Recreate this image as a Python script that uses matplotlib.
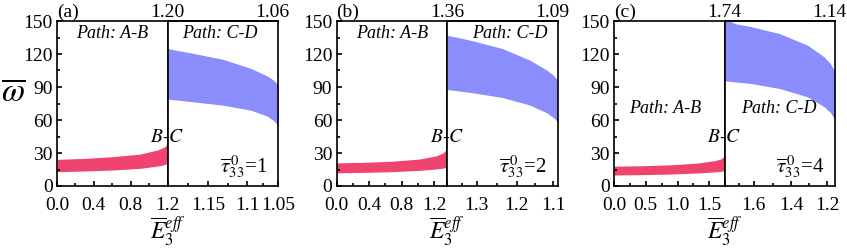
import matplotlib
matplotlib.use("Agg")
import matplotlib.pyplot as plt
from matplotlib.ticker import MultipleLocator, FixedLocator

plt.rcParams['font.family'] = ['Liberation Serif', 'DejaVu Serif']
plt.rcParams['mathtext.fontset'] = 'stix'

PINK = '#EF4470'
BLUE = '#8A8DFB'

# ---------------- data ----------------
panel_tags = ['(a)', '(b)', '(c)']
tau_vals = ['1', '2', '4']
E_c = [1.20, 1.36, 1.74]          # E at point B/C (divider)
E_end_top = ['1.06', '1.09', '1.14']
E_c_top = ['1.20', '1.36', '1.74']

# Path A-B (pink band): x in E units
ab_x_a = [0, 0.29, 0.60, 0.90, 1.09, 1.16, 1.20]
ab_lo_a = [13, 13.6, 14.5, 16.0, 18.1, 19.2, 20.6]
ab_hi_a = [24.2, 25.1, 26.6, 29.0, 32.7, 35.1, 38.1]

ab_x_b = [0, 0.33, 0.68, 1.02, 1.23, 1.31, 1.36]
ab_lo_b = [12, 12.4, 13.0, 14.2, 15.5, 16.3, 17.0]
ab_hi_b = [21, 21.5, 22.5, 24.5, 27.5, 30.0, 34.0]

ab_x_c = [0, 0.42, 0.87, 1.31, 1.58, 1.68, 1.74]
ab_lo_c = [10, 10.3, 10.8, 11.8, 12.8, 13.3, 14.0]
ab_hi_c = [18, 18.4, 19.2, 20.8, 23.0, 24.5, 27.0]

# Path C-D (blue band): x = position along path (0 at C, 1 at D)
cd_t = [0, 0.1, 0.236, 0.5, 0.752, 0.903, 0.96, 1.0]
cd_lo_a = [79, 78, 76.5, 73.5, 69, 63.5, 59.5, 55.3]
cd_hi_a = [125, 123, 120.5, 115.2, 107, 100, 96.2, 91.8]
cd_lo_b = [87.7, 86.5, 84.7, 80.5, 73.5, 66.5, 62.5, 58.4]
cd_hi_b = [137, 135, 131.9, 125, 114.3, 105.3, 101, 96.3]
cd_lo_c = [95.6, 94.6, 93.2, 88.6, 81, 72, 66.5, 60]
cd_hi_c = [152, 147.5, 145, 138.5, 128, 117.3, 111, 103.7]

# Bottom tick labels along path C-D (E values at path positions)
cd_tick_pos_a = [0, 0.367, 0.72, 1.0]
cd_tick_lab_a = ['', '1.15', '1.1', '1.05']
cd_tick_pos_b = [0, 0.27, 0.63, 0.96]
cd_tick_lab_b = ['', '1.3', '1.2', '1.1']
cd_tick_pos_c = [0, 0.264, 0.605, 0.928]
cd_tick_lab_c = ['', '1.6', '1.4', '1.2']

ab_major = [0.4, 0.4, 0.5]
ab_minor = [0.2, 0.2, 0.25]

panels = [
    (ab_x_a, ab_lo_a, ab_hi_a, cd_lo_a, cd_hi_a, cd_tick_pos_a, cd_tick_lab_a),
    (ab_x_b, ab_lo_b, ab_hi_b, cd_lo_b, cd_hi_b, cd_tick_pos_b, cd_tick_lab_b),
    (ab_x_c, ab_lo_c, ab_hi_c, cd_lo_c, cd_hi_c, cd_tick_pos_c, cd_tick_lab_c),
]

# text layout (axes fractions)
ab_text_pos = [(0.5, 0.925), (0.5, 0.925), (0.46, 0.47)]
cd_text_pos = [(0.475, 0.925), (0.57, 0.925), (0.49, 0.47)]

# ---------------- figure ----------------
W, H = 847, 249
fig = plt.figure(figsize=(W / 100, H / 100), dpi=100)

lefts = [57, 336.5, 614]
divs = [167.5, 447, 724.5]
rights = [278, 557.5, 835]
top_px, bot_px = 21, 186

TFS = 14
lw = 1.2

for i in range(3):
    abx, ablo, abhi, cdlo, cdhi, tpos, tlab = panels[i]
    b = 1 - bot_px / H
    h = (bot_px - top_px) / H
    axL = fig.add_axes([lefts[i] / W, b, (divs[i] - lefts[i]) / W, h])
    axR = fig.add_axes([divs[i] / W, b, (rights[i] - divs[i]) / W, h])

    axL.fill_between(abx, ablo, abhi, color=PINK, lw=0)
    axR.fill_between(cd_t, cdlo, cdhi, color=BLUE, lw=0)

    for ax in (axL, axR):
        ax.set_ylim(0, 150)
        for s in ax.spines.values():
            s.set_linewidth(lw)
        ax.tick_params(direction='in', labelsize=TFS, width=lw, length=3.5,
                       top=False, right=False)
        ax.tick_params(axis='x', pad=8)
        ax.tick_params(axis='y', pad=3)
        ax.tick_params(which='minor', direction='in', width=lw, length=2)

    axL.set_xlim(0, E_c[i])
    axL.xaxis.set_major_locator(MultipleLocator(ab_major[i]))
    axL.xaxis.set_minor_locator(MultipleLocator(ab_minor[i]))
    axL.yaxis.set_major_locator(MultipleLocator(30))
    axL.yaxis.set_minor_locator(MultipleLocator(15))
    axL.xaxis.set_major_formatter(matplotlib.ticker.FormatStrFormatter('%.1f'))

    axR.set_xlim(0, 1)
    axR.set_xticks(tpos)
    axR.set_xticklabels(tlab)
    mids = [(tpos[k] + tpos[k + 1]) / 2 for k in range(len(tpos) - 1)]
    axR.xaxis.set_minor_locator(FixedLocator(mids))
    axR.set_yticks([])
    axR.yaxis.set_minor_locator(FixedLocator([]))

    # top labels: values of E at C and D
    sec = axR.secondary_xaxis('top')
    sec.set_xticks([0, 0.95])
    sec.set_xticklabels([E_c_top[i], E_end_top[i]])
    sec.tick_params(length=0, labelsize=TFS, pad=0)
    sec.spines['top'].set_linewidth(lw)

    axL.text(0.0, 1.0, panel_tags[i], transform=axL.transAxes,
             fontsize=TFS, ha='left', va='bottom')

    axL.text(*ab_text_pos[i], 'Path: A-B', transform=axL.transAxes,
             fontsize=13, style='italic', ha='center', va='center')
    axR.text(*cd_text_pos[i], 'Path: C-D', transform=axR.transAxes,
             fontsize=13, style='italic', ha='center', va='center')
    fig.text(divs[i] / W, 1 - 137 / H, r'$B$-$C$',
             fontsize=14, ha='center', va='center', zorder=10)
    axR.text(0.90, 0.12, r'$\overline{\tau}_{33}^{\,0}$=' + tau_vals[i],
             transform=axR.transAxes, fontsize=15, ha='right', va='center')

    xc = (lefts[i] + rights[i]) / 2 / W
    fig.text(xc, 1 - 231 / H, r'$\overline{E}_3^{eff}$', fontsize=17,
             ha='center', va='center')

fig.text(13 / W, 1 - 93 / H, r'$\overline{\omega}$', fontsize=24,
         ha='center', va='center')

fig.savefig('out.png', dpi=100)
